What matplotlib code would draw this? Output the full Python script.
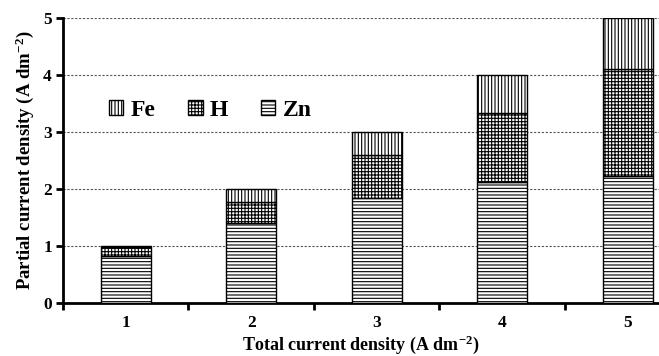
import matplotlib
matplotlib.use("Agg")
import matplotlib.pyplot as plt
import numpy as np

plt.rcParams['font.family'] = ['Liberation Serif', 'DejaVu Serif']
plt.rcParams['font.weight'] = 'bold'
plt.rcParams['mathtext.fontset'] = 'custom'
plt.rcParams['mathtext.rm'] = 'Liberation Serif:bold'
plt.rcParams['mathtext.it'] = 'Liberation Serif:bold'
plt.rcParams['mathtext.bf'] = 'Liberation Serif:bold'
plt.rcParams['hatch.linewidth'] = 0.8
plt.rcParams['hatch.color'] = '#444444'

# data
totals = ['1', '2', '3', '4', '5']
zn = [0.83, 1.40, 1.85, 2.12, 2.23]
h = [0.15, 0.38, 0.75, 1.22, 1.88]
fe = [0.02, 0.22, 0.40, 0.66, 0.89]

x = np.arange(len(totals))
w = 0.4

fig = plt.figure(figsize=(6.59, 3.56), dpi=100)
ax = fig.add_axes([0.0956, 0.149, 0.9044, 0.80])

zn_b = np.array(zn)
h_b = zn_b + np.array(h)
b_zn = ax.bar(x, zn, w, color='white', edgecolor='black', hatch='-----', linewidth=1.0, label='Zn', zorder=3)
b_h = ax.bar(x, h, w, bottom=zn_b, color='white', edgecolor='black', hatch='+++++', linewidth=1.0, label='H', zorder=3)
b_fe = ax.bar(x, fe, w, bottom=h_b, color='white', edgecolor='black', hatch='|||||', linewidth=1.0, label='Fe', zorder=3)

ax.set_yticks([0, 1, 2, 3, 4, 5])
ax.set_xticks(x)
ax.set_xticklabels(totals)
ax.set_xticks(np.arange(-0.5, 5, 1), minor=True)
ax.set_xlim(-0.5, 4.25)
ax.set_ylim(0, 5)
ax.tick_params(axis='x', which='major', length=0, pad=9, labelsize=12.5)
ax.tick_params(axis='x', which='minor', length=5, width=2, direction='out')
ax.tick_params(axis='y', length=5, width=2, direction='out', labelsize=12.5, pad=3)

for s in ['top', 'right']:
    ax.spines[s].set_visible(False)
ax.spines['left'].set_linewidth(2)
ax.spines['bottom'].set_linewidth(2)

ax.yaxis.grid(True, linestyle=(0, (2, 1.5)), color='#555555', linewidth=0.8, zorder=0)
ax.set_axisbelow(True)

ax.set_xlabel('Total current density (A dm$^{-2}$)', fontsize=13, fontweight='bold')
ax.xaxis.set_label_coords(0.5, -0.108)
ax.set_ylabel('Partial current density (A dm$^{-2}$)', fontsize=13.5, fontweight='bold', labelpad=5)

leg = ax.legend(handles=[b_fe, b_h, b_zn], labels=['Fe', 'H', 'Zn'], ncol=3, frameon=False,
                loc='center left', bbox_to_anchor=(0.042, 0.677), fontsize=17,
                handlelength=0.6, handleheight=0.6, handletextpad=0.3, columnspacing=1.4)

fig.savefig('out.png', dpi=100)
